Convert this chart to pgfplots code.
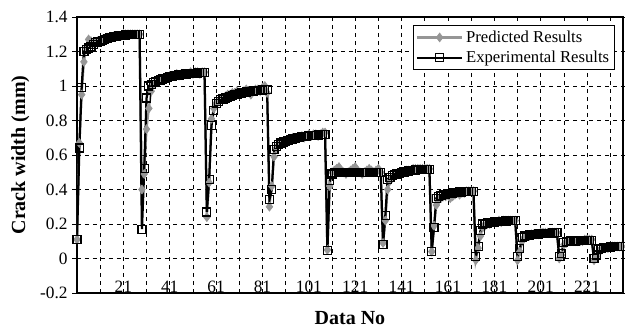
\documentclass[border=0pt]{standalone}
\usepackage{pgfplots}
\usepackage{pgfplotstable}
\pgfplotsset{compat=1.18}
\usepackage{fontspec}
\setmainfont{Liberation Serif}
\definecolor{predgray}{RGB}{150,150,150}
\pgfplotstableread{
x e p
1 0.11 0.11
2 0.64 0.67
3 0.99 0.95
4 1.20 1.14
5 1.21 1.22
6 1.22 1.27
7 1.23 1.26
8 1.24 1.25
9 1.25 1.25
10 1.255 1.26
11 1.26 1.26
12 1.265 1.27
13 1.27 1.27
14 1.275 1.28
15 1.28 1.28
16 1.283 1.28
17 1.286 1.29
18 1.289 1.29
19 1.291 1.29
20 1.293 1.29
21 1.295 1.30
22 1.296 1.30
23 1.297 1.30
24 1.298 1.30
25 1.299 1.30
26 1.30 1.30
27 1.30 1.30
28 1.30 1.30
29 0.17 0.40
30 0.52 0.49
31 0.93 0.75
32 1.00 0.87
33 1.01 0.97
34 1.02 1.01
35 1.025 1.02
36 1.03 1.03
37 1.035 1.04
38 1.04 1.04
39 1.045 1.05
40 1.05 1.05
41 1.053 1.06
42 1.056 1.06
43 1.059 1.06
44 1.062 1.07
45 1.064 1.06
46 1.066 1.07
47 1.068 1.07
48 1.07 1.07
49 1.071 1.07
50 1.072 1.08
51 1.073 1.07
52 1.074 1.08
53 1.075 1.08
54 1.076 1.07
55 1.077 1.08
56 1.077 1.08
57 0.27 0.24
58 0.46 0.44
59 0.77 0.81
60 0.86 0.87
61 0.90 0.90
62 0.91 0.91
63 0.92 0.92
64 0.925 0.93
65 0.93 0.94
66 0.935 0.95
67 0.94 0.95
68 0.945 0.96
69 0.95 0.96
70 0.953 0.97
71 0.956 0.95
72 0.959 0.96
73 0.962 0.97
74 0.965 0.98
75 0.967 0.97
76 0.969 0.95
77 0.971 0.97
78 0.973 0.98
79 0.975 0.98
80 0.976 0.97
81 0.977 0.99
82 0.978 1.00
83 0.978 0.96
84 0.34 0.30
85 0.40 0.42
86 0.63 0.59
87 0.65 0.64
88 0.66 0.66
89 0.67 0.67
90 0.675 0.68
91 0.68 0.67
92 0.685 0.68
93 0.69 0.69
94 0.693 0.70
95 0.696 0.69
96 0.70 0.70
97 0.703 0.70
98 0.705 0.71
99 0.707 0.70
100 0.709 0.71
101 0.711 0.72
102 0.713 0.71
103 0.714 0.72
104 0.715 0.72
105 0.716 0.71
106 0.717 0.72
107 0.718 0.73
108 0.72 0.73
109 0.047 0.05
110 0.45 0.42
111 0.49 0.50
112 0.50 0.51
113 0.50 0.52
114 0.50 0.53
115 0.50 0.51
116 0.50 0.50
117 0.50 0.49
118 0.50 0.50
119 0.50 0.51
120 0.50 0.52
121 0.50 0.53
122 0.50 0.51
123 0.50 0.50
124 0.50 0.49
125 0.50 0.50
126 0.50 0.51
127 0.50 0.52
128 0.50 0.51
129 0.50 0.50
130 0.50 0.51
131 0.50 0.52
132 0.50 0.50
133 0.08 0.09
134 0.25 0.22
135 0.46 0.40
136 0.47 0.45
137 0.48 0.47
138 0.485 0.48
139 0.49 0.49
140 0.495 0.49
141 0.50 0.50
142 0.502 0.50
143 0.505 0.51
144 0.507 0.51
145 0.509 0.51
146 0.511 0.52
147 0.513 0.52
148 0.514 0.52
149 0.515 0.52
150 0.516 0.52
151 0.517 0.52
152 0.518 0.52
153 0.518 0.52
154 0.04 0.04
155 0.18 0.19
156 0.35 0.31
157 0.36 0.34
158 0.365 0.35
159 0.37 0.36
160 0.373 0.36
161 0.376 0.37
162 0.378 0.35
163 0.38 0.36
164 0.382 0.37
165 0.384 0.38
166 0.385 0.37
167 0.386 0.38
168 0.387 0.38
169 0.388 0.39
170 0.389 0.39
171 0.39 0.39
172 0.39 0.39
173 0.01 -0.01
174 0.07 0.06
175 0.16 0.13
176 0.20 0.18
177 0.203 0.19
178 0.206 0.20
179 0.208 0.20
180 0.21 0.21
181 0.212 0.21
182 0.213 0.21
183 0.214 0.22
184 0.215 0.21
185 0.216 0.22
186 0.217 0.22
187 0.218 0.22
188 0.219 0.22
189 0.22 0.22
190 0.22 0.22
191 0.01 -0.01
192 0.056 0.04
193 0.12 0.10
194 0.13 0.12
195 0.133 0.13
196 0.136 0.13
197 0.138 0.14
198 0.14 0.14
199 0.141 0.14
200 0.142 0.14
201 0.143 0.15
202 0.144 0.15
203 0.145 0.15
204 0.146 0.15
205 0.147 0.15
206 0.148 0.15
207 0.149 0.15
208 0.15 0.15
209 0.01 0.00
210 0.03 0.02
211 0.095 0.08
212 0.10 0.09
213 0.10 0.10
214 0.101 0.10
215 0.102 0.10
216 0.102 0.10
217 0.103 0.10
218 0.103 0.10
219 0.104 0.10
220 0.104 0.11
221 0.105 0.11
222 0.105 0.11
223 0.105 0.11
224 0.00 -0.01
225 0.02 0.01
226 0.05 0.04
227 0.06 0.05
228 0.062 0.06
229 0.064 0.06
230 0.066 0.06
231 0.067 0.07
232 0.068 0.07
233 0.069 0.07
234 0.07 0.07
235 0.07 0.07
236 0.07 0.07
}\datatable
\begin{document}
\begin{tikzpicture}
\useasboundingbox (-57.75pt,-26.25pt) rectangle (411pt,219.75pt);
\begin{axis}[
  at={(0,0)}, anchor=south west,
  scale only axis,
  width=409.5pt, height=207pt,
  xmin=1, xmax=236.5,
  ymin=-0.2, ymax=1.4,
  ytick={-0.2,0,0.2,0.4,0.6,0.8,1,1.2,1.4},
  xtick={1,11,...,231},
  xticklabels={,,21,,41,,61,,81,,101,,121,,141,,161,,181,,201,,221,},
  xticklabel style={anchor=south, yshift=0pt},
  xtick style={draw=none},
  ytick style={black, line width=0.6pt},
  tick align=outside,
  major tick length=3.5pt,
  grid=major,
  major grid style={black, dashed, line width=0.5pt},
  extra y ticks={0},
  extra y tick labels={},
  extra y tick style={grid style={solid, black, line width=0.7pt}},
  axis line style={black, line width=1pt},
  /pgf/number format/assume math mode=true,
  tick label style={font=\fontsize{13}{15}\selectfont},
  label style={font=\fontsize{15}{17}\selectfont\bfseries},
  xlabel={Data No},
  ylabel={Crack width (mm)},
  xlabel style={at={(axis description cs:0.5,-0.09)}, anchor=center},
  ylabel style={at={(axis description cs:-0.104,0.5)}, anchor=center},
  legend style={at={(axis description cs:0.985,0.971)}, anchor=north east,
    draw=black, line width=0.5pt, fill=white, font=\fontsize{12.5}{14}\selectfont,
    inner sep=2pt, row sep=1pt, legend cell align=left},
  legend image code/.code={\draw[mark repeat=2, mark phase=2, #1] plot coordinates {(0pt,0pt) (17pt,0pt) (34pt,0pt)};},
]
\addplot[predgray, line width=1.6pt, mark=diamond*, mark size=3.3pt,
  mark options={solid, fill=predgray, draw=predgray, line width=0.5pt}]
  table[x=x, y=p] {\datatable};
\addlegendentry{Predicted Results}
\addplot[black, line width=1.7pt, mark=square, mark size=3pt,
  mark options={solid, draw=black, line width=0.9pt}]
  table[x=x, y=e] {\datatable};
\addlegendentry{Experimental Results}
\end{axis}
\end{tikzpicture}
\end{document}
